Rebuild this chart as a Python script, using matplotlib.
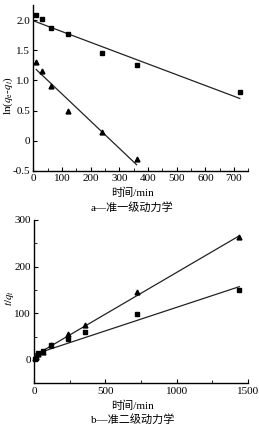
import matplotlib
matplotlib.use("Agg")
import matplotlib.pyplot as plt
import numpy as np
from matplotlib.ticker import MultipleLocator

plt.rcParams['font.family'] = ['Liberation Serif', 'Noto Sans CJK SC']
plt.rcParams['mathtext.fontset'] = 'stix'

# Panel a: pseudo-first-order
t_a = [10, 30, 60, 120, 240, 360, 720]
sq_a = [2.09, 2.02, 1.87, 1.77, 1.46, 1.25, 0.80]
t_a_tri = [10, 30, 60, 120, 240, 360]
tri_a = [1.30, 1.16, 0.91, 0.49, 0.14, -0.31]
fit_sq_a_x = [0, 720]
fit_sq_a_y = [1.99, 0.70]
fit_tri_a_x = [10, 360]
fit_tri_a_y = [1.18, -0.40]

# Panel b: pseudo-second-order
t_b = [5, 10, 30, 60, 120, 240, 360, 720, 1440]
sq_b = [1, 4, 14, 19, 31, 44, 59, 98, 149]
tri_b = [4, 7, 12, 18, 32, 56, 75, 146, 264]
fit_sq_b_x = [0, 1440]
fit_sq_b_y = [12, 157]
fit_tri_b_x = [0, 1440]
fit_tri_b_y = [9, 266]

W, H = 259, 430
fig = plt.figure(figsize=(W / 100, H / 100), dpi=100)
ax1 = fig.add_axes([0.129, 0.603, 0.83, 0.385])
ax2 = fig.add_axes([0.132, 0.1086, 0.825, 0.380])

fs = 8
for ax in (ax1, ax2):
    ax.spines['top'].set_visible(False)
    ax.spines['right'].set_visible(False)
    ax.tick_params(direction='in', labelsize=fs, length=3, width=0.8, pad=2.5)
    ax.tick_params(which='minor', direction='in', length=2, width=0.6)
    for s in ('left', 'bottom'):
        ax.spines[s].set_linewidth(1.0)

ms = 3.5
ax1.plot(fit_sq_a_x, fit_sq_a_y, color='#222222', lw=0.9)
ax1.plot(fit_tri_a_x, fit_tri_a_y, color='#222222', lw=0.9)
ax1.plot(t_a, sq_a, 's', color='black', ms=ms, clip_on=False)
ax1.plot(t_a_tri, tri_a, '^', color='black', ms=ms, clip_on=False)
ax1.set_xlim(0, 750)
ax1.set_ylim(-0.5, 2.25)
ax1.xaxis.set_major_locator(MultipleLocator(100))
ax1.xaxis.set_minor_locator(MultipleLocator(50))
ax1.set_yticks([-0.5, 0, 0.5, 1.0, 1.5, 2.0])
ax1.set_yticklabels(['-0.5', '0', '0.5', '1.0', '1.5', '2.0'])

ax2.plot(fit_sq_b_x, fit_sq_b_y, color='#222222', lw=0.9)
ax2.plot(fit_tri_b_x, fit_tri_b_y, color='#222222', lw=0.9)
ax2.plot(t_b, sq_b, 's', color='black', ms=ms, clip_on=False)
ax2.plot(t_b, tri_b, '^', color='black', ms=ms, clip_on=False)
ax2.set_xlim(0, 1500)
ax2.set_ylim(-50, 300)
ax2.xaxis.set_major_locator(MultipleLocator(500))
ax2.xaxis.set_minor_locator(MultipleLocator(250))
ax2.set_yticks([0, 100, 200, 300])
ax2.yaxis.set_minor_locator(MultipleLocator(50))

def fx(px):
    return px / W

def fy(py):
    return 1 - py / H

lfs = 8
fig.text(fx(133), fy(193), '时间/min', ha='center', va='center', fontsize=lfs)
fig.text(fx(132), fy(207), 'a—准一级动力学', ha='center', va='center', fontsize=lfs)
fig.text(fx(133), fy(406), '时间/min', ha='center', va='center', fontsize=lfs)
fig.text(fx(133), fy(419), 'b—准二级动力学', ha='center', va='center', fontsize=lfs)
fig.text(fx(8), fy(96), r'ln($q_{\rm e}$-$q_{t}$)', rotation=90, ha='center', va='center', fontsize=lfs)
fig.text(fx(9), fy(298), r'$t/q_t$', rotation=90, ha='center', va='center', fontsize=lfs)

fig.savefig('out.png', dpi=100)
